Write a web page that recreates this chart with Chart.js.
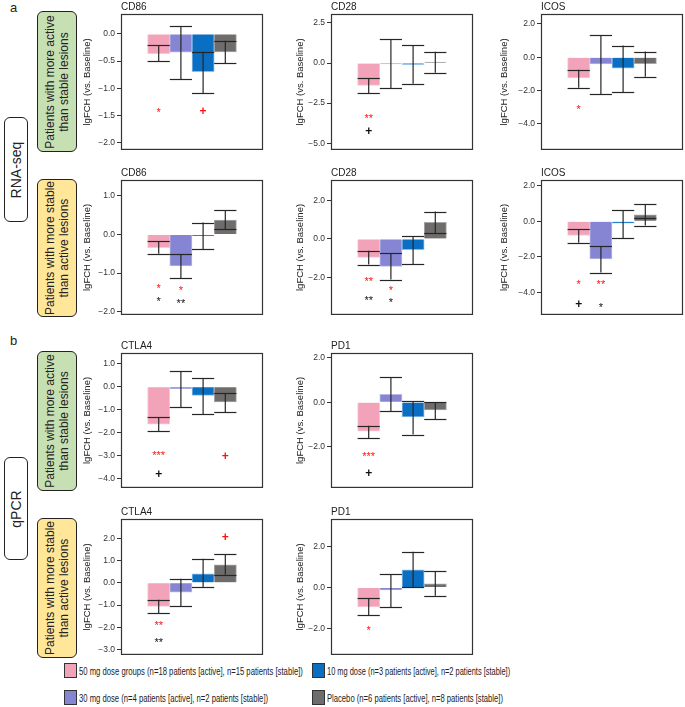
<!DOCTYPE html>
<html>
<head>
<meta charset="utf-8">
<script src="https://cdn.jsdelivr.net/npm/chart.js@4.4.1/dist/chart.umd.min.js"></script>
<style>
  body { margin: 0; background: #fff; width: 685px; height: 707px; position: relative; overflow: hidden;
         font-family: 'Liberation Sans', Arial, sans-serif; color: #222; }
  .panel { position: absolute; }
  .letter { position: absolute; font-size: 13px; }
  .side { position: absolute; box-sizing: border-box; border: 1.5px solid #222; border-radius: 6px;
          display: flex; align-items: center; justify-content: center; }
  .side span { transform: rotate(-90deg); white-space: nowrap; text-align: center; }
  .method span { font-size: 14px; }
  .group span { font-size: 12px; line-height: 14px; }
  .green { background: #c6e0b4; }
  .yellow { background: #ffe699; }
  .key { position: absolute; display: flex; align-items: center; font-size: 11px; white-space: nowrap; }
  .key i { display: inline-block; width: 11px; height: 13px; border: 1px solid #333; margin-right: 2px; flex: none; }
  .key span { display: inline-block; transform-origin: left center; flex: none; }
</style>
</head>
<body>

<div class="letter" style="left:10px;top:0px">a</div>
<div class="letter" style="left:10px;top:333px">b</div>

<div class="side method" style="left:4px;top:117px;width:24px;height:105px"><span>RNA-seq</span></div>
<div class="side method" style="left:4px;top:457px;width:24px;height:103px"><span>qPCR</span></div>

<div class="side group green" style="left:37px;top:11px;width:40px;height:141px"><span>Patients with more active<br>than stable lesions</span></div>
<div class="side group yellow" style="left:37px;top:179px;width:40px;height:138px"><span>Patients with more stable<br>than active lesions</span></div>
<div class="side group green" style="left:37px;top:351px;width:40px;height:140px"><span>Patients with more active<br>than stable lesions</span></div>
<div class="side group yellow" style="left:37px;top:518px;width:40px;height:140px"><span>Patients with more stable<br>than active lesions</span></div>

<div id="legend"></div>

<script>
// groups (bar order in every panel)
const groupNames = [
  '50 mg dose groups (n=18 patients [active], n=15 patients [stable])',
  '30 mg dose (n=4 patients [active], n=2 patients [stable])',
  '10 mg dose (n=3 patients [active], n=2 patients [stable])',
  'Placebo (n=6 patients [active], n=8 patients [stable])'
];
const groupColors = ['#f2a3ba', '#8585d3', '#0a6ec2', '#6f6c6c'];
const groupEdges = ['#f7cad6', '#b9b9e8', '#8dbde6', '#a8a6a6'];

// RNA-seq, more active lesions
const cd86ActBar = [-0.365, -0.335, -0.695, -0.33];
const cd86ActMid = [-0.213, null, -0.328, -0.128];
const cd86ActHi = [null, 0.14, null, null];
const cd86ActLo = [-0.505, -0.833, -1.085, -0.54];
const cd86ActTicks = [0, -0.5, -1, -1.5, -2];
const cd86ActMarks = [[0, -1.39, '*', 'red'], [2, -1.42, '+', 'red']];

const cd28ActBar = [-1.39, -0.06, -0.08, 0.06];
const cd28ActMid = [-0.93, null, null, null];
const cd28ActHi = [null, 1.47, 1.12, 0.70];
const cd28ActLo = [-1.89, -1.58, -1.30, -0.60];
const cd28ActTicks = [2.5, 0, -2.5, -5];
const cd28ActMarks = [[0, -3.28, '**', 'red'], [0, -4.25, '+', 'black']];

const icosActBar = [-1.25, -0.40, -0.66, -0.38];
const icosActMid = [-0.75, null, null, null];
const icosActHi = [null, 1.33, 0.70, 0.34];
const icosActLo = [-1.83, -2.21, -2.09, -1.17];
const icosActTicks = [2, 0, -2, -4];
const icosActMarks = [[0, -2.95, '*', 'red']];

// RNA-seq, more stable lesions
const cd86StaBar = [-0.34, -0.81, -0.03, 0.37];
const cd86StaMid = [-0.18, -0.51, null, 0.13];
const cd86StaHi = [null, null, 0.31, 0.63];
const cd86StaLo = [-0.50, -1.125, -0.375, null];
const cd86StaTicks = [1, 0, -1, -2];
const cd86StaMarks = [[0, -1.32, '*', 'red'], [1, -1.37, '*', 'red'], [0, -1.64, '*', 'black'], [1, -1.71, '**', 'black']];

const cd28StaBar = [-0.95, -1.42, -0.56, 0.85];
const cd28StaMid = [-0.61, -0.75, null, 0.31];
const cd28StaHi = [null, null, 0.15, 1.41];
const cd28StaLo = [-1.32, -2.10, -1.29, null];
const cd28StaTicks = [2, 0, -2];
const cd28StaMarks = [[0, -2.04, '**', 'red'], [1, -2.48, '*', 'red'], [0, -3.03, '**', 'black'], [1, -3.10, '*', 'black']];

const icosStaBar = [-0.80, -2.12, -0.10, 0.36];
const icosStaMid = [-0.43, -1.41, null, 0.19];
const icosStaHi = [null, null, 0.62, 0.95];
const icosStaLo = [-1.21, -2.88, -0.95, -0.24];
const icosStaTicks = [2, 0, -2, -4];
const icosStaMarks = [[0, -3.35, '*', 'red'], [1, -3.39, '**', 'red'], [0, -4.64, '+', 'black'], [1, -4.64, '*', 'black']];

// qPCR, more active lesions
const ctla4ActBar = [-1.62, -0.08, -0.37, -0.66];
const ctla4ActMid = [-1.33, null, null, -0.27];
const ctla4ActHi = [null, 0.67, 0.37, null];
const ctla4ActLo = [-1.93, -0.89, -1.19, -1.09];
const ctla4ActTicks = [1, 0, -1, -2, -3, -4];
const ctla4ActMarks = [[0, -2.85, '***', 'red'], [0, -3.78, '+', 'black'], [3, -3.02, '+', 'red']];

const pd1ActBar = [-1.31, 0.35, -0.66, -0.35];
const pd1ActMid = [-1.06, null, null, null];
const pd1ActHi = [null, 1.12, 0.05, 0.0];
const pd1ActLo = [-1.62, -0.41, -1.46, -0.77];
const pd1ActTicks = [2, 0, -2];
const pd1ActMarks = [[0, -2.31, '***', 'red'], [0, -3.22, '+', 'black']];

// qPCR, more stable lesions
const ctla4StaBar = [-1.06, -0.42, 0.41, 0.81];
const ctla4StaMid = [-0.76, null, null, 0.37];
const ctla4StaHi = [null, 0.18, 1.09, 1.28];
const ctla4StaLo = [-1.38, -1.06, -0.20, null];
const ctla4StaTicks = [2, 1, 0, -1, -2, -3];
const ctla4StaMarks = [[0, -1.79, '**', 'red'], [0, -2.55, '**', 'black'], [3, 2.08, '+', 'red']];

const pd1StaBar = [-0.94, -0.12, 0.87, 0.18];
const pd1StaMid = [-0.53, null, null, null];
const pd1StaHi = [null, 0.65, 1.75, 0.79];
const pd1StaLo = [-1.34, -0.97, 0.03, -0.40];
const pd1StaTicks = [2, 0, -2];
const pd1StaMarks = [[0, -1.93, '*', 'red']];

// error bars, significance marks and the box around each plot
const extras = {
  id: 'extras',
  afterDatasetsDraw(chart, args, o) {
    const ctx = chart.ctx, xs = chart.scales.x, ys = chart.scales.y;
    const meta = chart.getDatasetMeta(0);
    const line = (x1, y1, x2, y2) => { ctx.beginPath(); ctx.moveTo(x1, y1); ctx.lineTo(x2, y2); ctx.stroke(); };
    ctx.save();
    ctx.strokeStyle = '#262626';
    ctx.lineWidth = 1.2;
    o.lo.forEach((lo, i) => {
      const cx = xs.getPixelForValue(i + 1);
      const hw = meta.data[i].width / 2;
      const top = o.hi[i] !== null ? o.hi[i] : o.mid[i];
      const bot = lo !== null ? lo : o.mid[i];
      line(cx, ys.getPixelForValue(top), cx, ys.getPixelForValue(bot));
      [o.hi[i], lo, o.mid[i]].forEach(v => {
        if (v === null) return;
        const py = Math.round(ys.getPixelForValue(v)) + 0.5;
        line(cx - hw, py, cx + hw, py);
      });
    });
    ctx.textAlign = 'center';
    ctx.textBaseline = 'alphabetic';
    o.marks.forEach(([i, v, txt, col]) => {
      const plus = txt === '+';
      const fs = plus ? 12 : 11;
      ctx.font = (plus ? 'bold ' : '') + fs + 'px "Liberation Sans", Arial, sans-serif';
      ctx.fillStyle = col === 'red' ? '#ff1010' : '#111';
      ctx.fillText(txt, xs.getPixelForValue(i + 1), ys.getPixelForValue(v) + (plus ? 0.33 : 0.62) * fs);
    });
    const a = chart.chartArea;
    ctx.strokeStyle = '#333';
    ctx.lineWidth = 1.2;
    ctx.strokeRect(a.left + 0.5, a.top + 0.5, a.width - 1, a.height - 1);
    ctx.restore();
  }
};

function panel(left, top, axisW, boxH, title, bar, mid, hi, lo, ticks, marks, yMin, yMax) {
  const boxW = 142, titleH = 16, padR = 2, padB = 6;
  const div = document.createElement('div');
  div.className = 'panel';
  div.style.left = (left - axisW) + 'px';
  div.style.top = (top - titleH) + 'px';
  const cv = document.createElement('canvas');
  cv.width = axisW + boxW + padR;
  cv.height = titleH + boxH + padB;
  div.appendChild(cv);
  document.body.appendChild(div);

  new Chart(cv.getContext('2d'), {
    type: 'bar',
    data: {
      datasets: [{
        data: bar.map((v, i) => ({ x: i + 1, y: v })),
        backgroundColor: groupColors,
        borderColor: groupEdges,
        borderWidth: 1,
        barPercentage: 1,
        categoryPercentage: 1
      }]
    },
    options: {
      responsive: false,
      devicePixelRatio: 1,
      animation: false,
      layout: { padding: { left: 0, right: padR, top: 0, bottom: padB } },
      scales: {
        x: {
          type: 'linear',
          display: false,
          min: -0.165,
          max: 5.165,
          ticks: { stepSize: 1, includeBounds: false }
        },
        y: {
          min: yMin,
          max: yMax,
          afterBuildTicks: s => { s.ticks = ticks.map(v => ({ value: v })); },
          afterFit: s => { s.width = axisW; },
          border: { display: false },
          grid: { drawOnChartArea: false, drawTicks: true, tickLength: 4, color: '#333' },
          ticks: {
            padding: 2,
            color: '#333',
            font: { size: 8.5, family: "'Liberation Sans', Arial, sans-serif" },
            callback: v => v.toFixed(1).replace('-', '\u2212')
          },
          title: {
            display: true,
            text: 'lgFCH (vs. Baseline)',
            color: '#222',
            padding: 0,
            font: { size: 9.5, family: "'Liberation Sans', Arial, sans-serif" }
          }
        }
      },
      plugins: {
        legend: { display: false },
        tooltip: { enabled: false },
        title: {
          display: true,
          text: title,
          align: 'start',
          fullSize: false,
          color: '#222',
          padding: { top: 3, bottom: 1 },
          font: { size: 10, weight: 'normal', family: "'Liberation Sans', Arial, sans-serif" }
        },
        extras: { mid, hi, lo, marks }
      }
    },
    plugins: [extras]
  });
}

panel(121, 14, 39, 137, 'CD86', cd86ActBar, cd86ActMid, cd86ActHi, cd86ActLo, cd86ActTicks, cd86ActMarks, -2.13, 0.365);
panel(331, 14, 36, 137, 'CD28', cd28ActBar, cd28ActMid, cd28ActHi, cd28ActLo, cd28ActTicks, cd28ActMarks, -5.42, 3.06);
panel(541, 14, 42, 137, 'ICOS', icosActBar, icosActMid, icosActHi, icosActLo, icosActTicks, icosActMarks, -5.57, 2.6);

panel(121, 180, 39, 136, 'CD86', cd86StaBar, cd86StaMid, cd86StaHi, cd86StaLo, cd86StaTicks, cd86StaMarks, -2.08, 1.41);
panel(331, 180, 36, 136, 'CD28', cd28StaBar, cd28StaMid, cd28StaHi, cd28StaLo, cd28StaTicks, cd28StaMarks, -3.92, 3.04);
panel(541, 180, 42, 136, 'ICOS', icosStaBar, icosStaMid, icosStaHi, icosStaLo, icosStaTicks, icosStaMarks, -5.26, 2.32);

panel(121, 353, 39, 136, 'CTLA4', ctla4ActBar, ctla4ActMid, ctla4ActHi, ctla4ActLo, ctla4ActTicks, ctla4ActMarks, -4.39, 1.47);
panel(331, 353, 36, 136, 'PD1', pd1ActBar, pd1ActMid, pd1ActHi, pd1ActLo, pd1ActTicks, pd1ActMarks, -3.87, 2.22);

panel(121, 519, 39, 137, 'CTLA4', ctla4StaBar, ctla4StaMid, ctla4StaHi, ctla4StaLo, ctla4StaTicks, ctla4StaMarks, -3.25, 2.88);
panel(331, 519, 36, 137, 'PD1', pd1StaBar, pd1StaMid, pd1StaHi, pd1StaLo, pd1StaTicks, pd1StaMarks, -3.28, 3.34);

// shared legend below the panels; each label squeezed to the width it has in the figure
const keyPos = [[64, 663], [64, 690], [312, 663], [312, 690]];
const keyTextW = [224, 189, 183, 176];
const legend = document.getElementById('legend');
groupNames.forEach((name, i) => {
  const k = document.createElement('div');
  k.className = 'key';
  k.style.left = keyPos[i][0] + 'px';
  k.style.top = keyPos[i][1] + 'px';
  k.innerHTML = '<i style="background:' + groupColors[i] + '"></i><span>' + name + '</span>';
  legend.appendChild(k);
  const sp = k.querySelector('span');
  sp.style.transform = 'scaleX(' + (keyTextW[i] / sp.getBoundingClientRect().width).toFixed(3) + ')';
});
</script>
</body>
</html>
